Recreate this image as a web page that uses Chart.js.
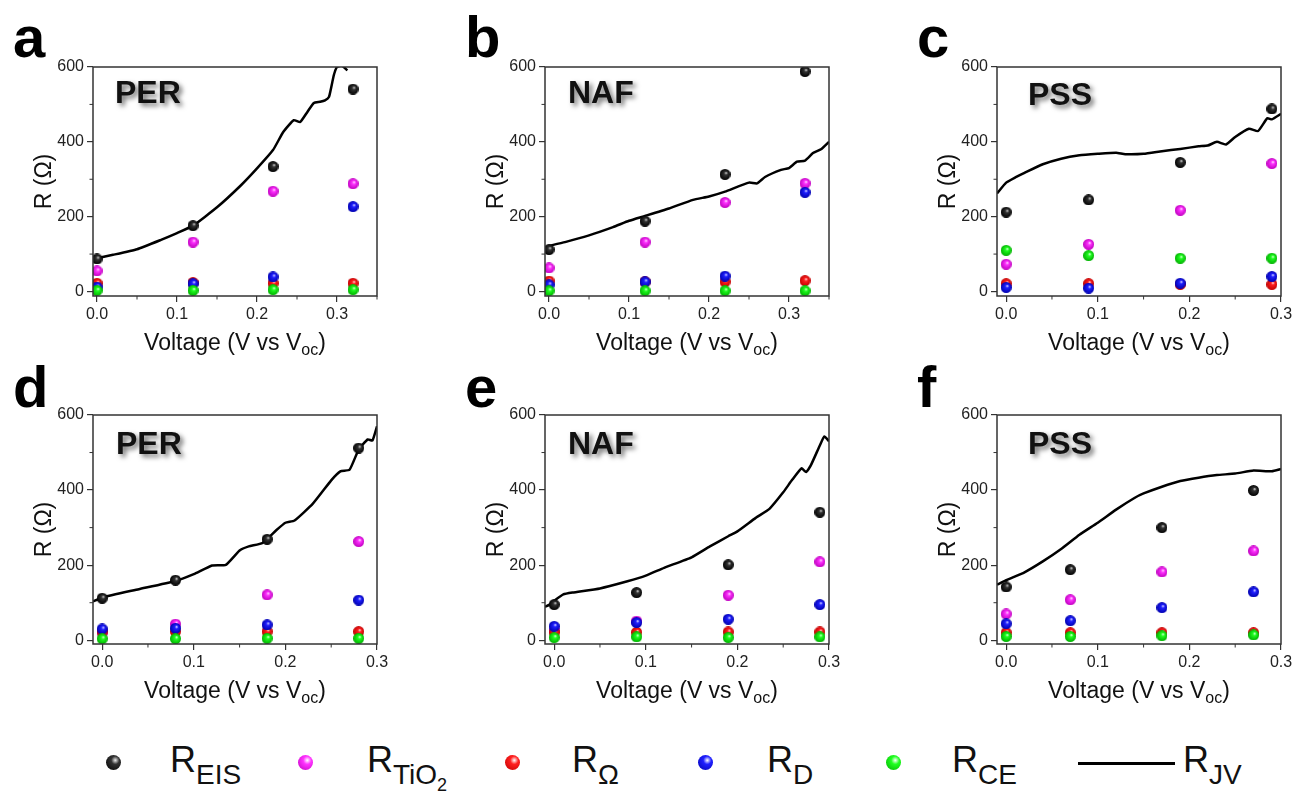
<!DOCTYPE html>
<html>
<head>
<meta charset="utf-8">
<script src="https://cdn.jsdelivr.net/npm/chart.js@4.4.1/dist/chart.umd.min.js"></script>
<style>
  body { margin: 0; width: 1294px; height: 794px; overflow: hidden; background: #fff; position: relative;
         font-family: 'Liberation Sans', Arial, sans-serif; color: #111; }
  canvas.p { position: absolute; }
  .ball { position: absolute; width: 15px; height: 15px; border-radius: 50%; }
  .lab { position: absolute; top: 742px; font-size: 36px; line-height: 36px; white-space: nowrap; }
  .lab span { font-size: 28px; position: relative; top: 12px; }
  .jv { position: absolute; left: 1078px; top: 762px; width: 97px; height: 3px; background: #000; }
</style>
</head>
<body>
<canvas id="pa" class="p" width="430" height="370" style="left:0px;top:0px"></canvas>
<canvas id="pb" class="p" width="430" height="370" style="left:452px;top:0px"></canvas>
<canvas id="pc" class="p" width="430" height="370" style="left:904px;top:0px"></canvas>
<canvas id="pd" class="p" width="430" height="370" style="left:0px;top:348px"></canvas>
<canvas id="pe" class="p" width="430" height="370" style="left:452px;top:348px"></canvas>
<canvas id="pf" class="p" width="430" height="370" style="left:904px;top:348px"></canvas>

<div class="ball" style="left:106px;top:755px;background:radial-gradient(circle at 62% 35%, #eee 0%, #333 30%, #000 100%)"></div>
<div class="lab" style="left:170px">R<span>EIS</span></div>
<div class="ball" style="left:298px;top:755px;background:radial-gradient(circle at 62% 35%, #fff 0%, #ff33ff 30%, #c000c0 100%)"></div>
<div class="lab" style="left:367px">R<span>TiO<sub style="font-size:18px">2</sub></span></div>
<div class="ball" style="left:505px;top:755px;background:radial-gradient(circle at 62% 35%, #fff 0%, #ff2020 30%, #c00000 100%)"></div>
<div class="lab" style="left:572px">R<span>Ω</span></div>
<div class="ball" style="left:698px;top:755px;background:radial-gradient(circle at 62% 35%, #fff 0%, #2020ff 30%, #0000b0 100%)"></div>
<div class="lab" style="left:767px">R<span>D</span></div>
<div class="ball" style="left:886px;top:755px;background:radial-gradient(circle at 62% 35%, #fff 0%, #20ff20 30%, #00b000 100%)"></div>
<div class="lab" style="left:952px">R<span>CE</span></div>
<div class="jv"></div>
<div class="lab" style="left:1183px">R<span>JV</span></div>

<script>
// tick values
const majorX = [0, 0.1, 0.2, 0.3];
const minorXwide = [0.05, 0.15, 0.25, 0.35];
const minorX = [0.05, 0.15, 0.25];
const majorY = [0, 200, 400, 600];
const minorY = [100, 300, 500];

// a - PER
const xA = [0, 0.12, 0.22, 0.32];
const eisA = [87, 176, 334, 541];
const tioA = [55, 132, 268, 288];
const ohmA = [22, 24, 22, 22];
const dA = [12, 21, 39, 227];
const ceA = [3, 3, 5, 5];
const jvXA = [0, 0.02, 0.05, 0.08, 0.1, 0.12, 0.15, 0.18, 0.2, 0.22, 0.233, 0.246, 0.254, 0.263, 0.271, 0.279, 0.285, 0.29, 0.296, 0.3, 0.306, 0.313];
const jvYA = [89, 98, 113, 138, 156, 176, 225, 284, 329, 378, 427, 458, 453, 480, 504, 507, 511, 520, 578, 600, 604, 591];

// b - NAF
const xB = [0, 0.12, 0.22, 0.32];
const eisB = [112, 188, 313, 588];
const tioB = [63, 132, 238, 289];
const ohmB = [28, 26, 26, 29];
const dB = [18, 26, 41, 265];
const ceB = [2, 2, 2, 2];
const jvXB = [0, 0.02, 0.05, 0.08, 0.1, 0.12, 0.15, 0.18, 0.2, 0.22, 0.25, 0.26, 0.27, 0.29, 0.3, 0.31, 0.32, 0.33, 0.34, 0.35];
const jvYB = [122, 132, 150, 172, 189, 202, 222, 245, 254, 267, 291, 289, 306, 325, 330, 347, 350, 370, 380, 400];

// c - PSS
const xC = [0, 0.09, 0.19, 0.29];
const eisC = [212, 245, 345, 488];
const tioC = [73, 126, 217, 342];
const ohmC = [21, 21, 19, 19];
const dC = [11, 9, 22, 40];
const ceC = [110, 96, 89, 89];
const jvXC = [-0.01, 0, 0.01, 0.02, 0.04, 0.06, 0.08, 0.1, 0.12, 0.13, 0.15, 0.17, 0.19, 0.21, 0.22, 0.23, 0.24, 0.25, 0.265, 0.275, 0.285, 0.29, 0.3];
const jvYC = [262, 291, 305, 317, 340, 355, 364, 368, 371, 367, 368, 375, 381, 388, 390, 400, 393, 413, 435, 429, 463, 460, 475];

// d - PER
const xD = [0, 0.08, 0.18, 0.28];
const eisD = [112, 160, 269, 512];
const tioD = [20, 43, 121, 263];
const ohmD = [23, 23, 23, 23];
const dD = [30, 32, 41, 107];
const ceD = [4, 4, 5, 5];
const jvXD = [-0.01, 0, 0.04, 0.08, 0.1, 0.12, 0.135, 0.15, 0.16, 0.175, 0.19, 0.2, 0.21, 0.23, 0.25, 0.26, 0.27, 0.28, 0.29, 0.295, 0.3];
const jvYD = [103, 114, 136, 158, 176, 199, 201, 239, 250, 259, 293, 313, 319, 364, 426, 450, 454, 508, 535, 532, 570];

// e - NAF
const xE = [0, 0.09, 0.19, 0.29];
const eisE = [95, 127, 201, 341];
const tioE = [26, 51, 120, 209];
const ohmE = [21, 21, 22, 22];
const dE = [37, 47, 56, 95];
const ceE = [7, 9, 7, 9];
const jvXE = [-0.01, -0.005, 0, 0.01, 0.02, 0.05, 0.08, 0.1, 0.12, 0.15, 0.17, 0.19, 0.2, 0.22, 0.235, 0.25, 0.26, 0.27, 0.275, 0.28, 0.29, 0.295, 0.3];
const jvYE = [89, 95, 105, 122, 127, 138, 157, 172, 193, 221, 250, 277, 290, 326, 350, 394, 428, 458, 448, 465, 519, 543, 530];

// f - PSS
const xF = [0, 0.07, 0.17, 0.27];
const eisF = [142, 188, 300, 399];
const tioF = [70, 108, 182, 238];
const ohmF = [20, 20, 20, 20];
const dF = [44, 52, 87, 129];
const ceF = [10, 10, 12, 14];
const jvXF = [-0.01, 0, 0.02, 0.04, 0.06, 0.08, 0.1, 0.12, 0.14, 0.15, 0.17, 0.19, 0.21, 0.23, 0.25, 0.27, 0.29, 0.3];
const jvYF = [148, 160, 181, 210, 243, 281, 313, 348, 379, 391, 409, 424, 433, 440, 444, 452, 450, 456];

const FONT = "'Liberation Sans', Arial, sans-serif";
Chart.defaults.font.family = FONT;

// shaded ball marker
function sphere(hi, mid, dark, d) {
  const c = document.createElement('canvas');
  c.width = c.height = d;
  const g = c.getContext('2d');
  const r = d / 2;
  const grad = g.createRadialGradient(r * 1.25, r * 0.7, 0, r, r, r);
  grad.addColorStop(0, hi);
  grad.addColorStop(0.3, mid);
  grad.addColorStop(1, dark);
  g.fillStyle = grad;
  g.beginPath();
  g.arc(r, r, r, 0, Math.PI * 2);
  g.fill();
  return c;
}
const balls = {
  eis: sphere('#eee', '#333', '#000', 11),
  tio: sphere('#fff', '#ff33ff', '#c000c0', 11),
  ohm: sphere('#fff', '#ff2020', '#c00000', 11),
  d: sphere('#fff', '#2020ff', '#0000b0', 11),
  ce: sphere('#fff', '#20ff20', '#00b000', 11)
};

const decor = {
  id: 'decor',
  afterDraw(chart, args, o) {
    const { ctx, chartArea: a, scales: { x, y } } = chart;
    ctx.save();
    ctx.strokeStyle = '#333';
    ctx.lineWidth = 1.5;
    ctx.strokeRect(a.left, a.top, a.right - a.left, a.bottom - a.top);
    ctx.lineWidth = 1;
    o.minorX.forEach(v => {
      const px = x.getPixelForValue(v);
      ctx.beginPath(); ctx.moveTo(px, a.bottom); ctx.lineTo(px, a.bottom + 3.5); ctx.stroke();
    });
    minorY.forEach(v => {
      const py = y.getPixelForValue(v);
      ctx.beginPath(); ctx.moveTo(a.left, py); ctx.lineTo(a.left - 3.5, py); ctx.stroke();
    });

    // x title with subscript
    ctx.fillStyle = '#111';
    ctx.textBaseline = 'alphabetic';
    ctx.textAlign = 'left';
    const t1 = 'Voltage (V vs V', t2 = 'oc', t3 = ')';
    ctx.font = '23px ' + FONT;
    const w1 = ctx.measureText(t1).width, w3 = ctx.measureText(t3).width;
    ctx.font = '16px ' + FONT;
    const w2 = ctx.measureText(t2).width;
    let sx = (a.left + a.right) / 2 - (w1 + w2 + w3) / 2;
    const by = a.bottom + 54;
    ctx.font = '23px ' + FONT;
    ctx.fillText(t1, sx, by);
    ctx.font = '16px ' + FONT;
    ctx.fillText(t2, sx + w1, by + 5);
    ctx.font = '23px ' + FONT;
    ctx.fillText(t3, sx + w1 + w2, by);

    // y title
    ctx.save();
    ctx.translate(a.left - 48, (a.top + a.bottom) / 2);
    ctx.rotate(-Math.PI / 2);
    ctx.textAlign = 'center';
    ctx.textBaseline = 'middle';
    ctx.font = '23px ' + FONT;
    ctx.fillText('R (Ω)', 0, 0);
    ctx.restore();

    // panel letter
    ctx.font = 'bold 58px ' + FONT;
    ctx.fillStyle = '#000';
    ctx.fillText(o.letter, a.left - 80, a.top + o.letterDy);

    // sample name with soft shadow
    ctx.shadowColor = 'rgba(0,0,0,0.55)';
    ctx.shadowBlur = 5;
    ctx.shadowOffsetX = 3;
    ctx.shadowOffsetY = 3;
    ctx.font = 'bold 32px ' + FONT;
    ctx.fillStyle = '#111';
    ctx.fillText(o.name, a.left + o.nameDx, a.top + o.nameDy);
    ctx.restore();
  }
};

function pts(xs, ys) {
  return xs.map((v, i) => ({ x: v, y: ys[i] }));
}

function ball(label, xs, ys, img, order) {
  return { label, data: pts(xs, ys), pointStyle: img, pointRadius: 5.5, order };
}

function makePanel(p) {
  new Chart(document.getElementById(p.id), {
    type: 'scatter',
    data: {
      datasets: [
        ball('R_EIS', p.x, p.eis, balls.eis, 5),
        ball('R_TiO2', p.x, p.tio, balls.tio, 4),
        ball('R_Ω', p.x, p.ohm, balls.ohm, 3),
        ball('R_D', p.x, p.d, balls.d, 2),
        ball('R_CE', p.x, p.ce, balls.ce, 1),
        { label: 'R_JV', data: pts(p.jvX, p.jvY), showLine: true, pointRadius: 0,
          borderColor: '#000', borderWidth: 2.5, tension: 0.15, order: 6 }
      ]
    },
    options: {
      responsive: false,
      animation: false,
      layout: { padding: { left: 0, top: 67, right: 53, bottom: 0 } },
      plugins: {
        legend: { display: false },
        tooltip: { enabled: false },
        decor: p.decor
      },
      scales: {
        x: {
          type: 'linear', min: p.xMin, max: 0.3 + p.xExtra,
          afterFit: s => { s.height = 74; },
          afterBuildTicks: s => { s.ticks = majorX.map(v => ({ value: v })); },
          grid: { drawOnChartArea: false, tickLength: 6, color: '#333', lineWidth: 1.2 },
          border: { display: false },
          ticks: { font: { size: 16 }, color: '#222', padding: 3, maxRotation: 0, autoSkip: false,
                   callback: v => Number(v).toFixed(1) }
        },
        y: {
          min: p.yMin, max: 600,
          afterFit: s => { s.width = 93; },
          afterBuildTicks: s => { s.ticks = majorY.map(v => ({ value: v })); },
          grid: { drawOnChartArea: false, tickLength: 6, color: '#333', lineWidth: 1.2 },
          border: { display: false },
          ticks: { font: { size: 16 }, color: '#222', padding: 3, autoSkip: false,
                   callback: v => String(v) }
        }
      }
    },
    plugins: [decor]
  });
}

makePanel({ id: 'pa', x: xA, eis: eisA, tio: tioA, ohm: ohmA, d: dA, ce: ceA, jvX: jvXA, jvY: jvYA,
  xMin: -0.005, xExtra: 0.05, yMin: -12,
  decor: { letter: 'a', letterDy: -10, name: 'PER', nameDx: 22, nameDy: 36, minorX: minorXwide } });
makePanel({ id: 'pb', x: xB, eis: eisB, tio: tioB, ohm: ohmB, d: dB, ce: ceB, jvX: jvXB, jvY: jvYB,
  xMin: -0.005, xExtra: 0.05, yMin: -12,
  decor: { letter: 'b', letterDy: -10, name: 'NAF', nameDx: 23, nameDy: 36, minorX: minorXwide } });
makePanel({ id: 'pc', x: xC, eis: eisC, tio: tioC, ohm: ohmC, d: dC, ce: ceC, jvX: jvXC, jvY: jvYC,
  xMin: -0.01, xExtra: 0, yMin: -12,
  decor: { letter: 'c', letterDy: -10, name: 'PSS', nameDx: 31, nameDy: 38, minorX: minorX } });
makePanel({ id: 'pd', x: xD, eis: eisD, tio: tioD, ohm: ohmD, d: dD, ce: ceD, jvX: jvXD, jvY: jvYD,
  xMin: -0.01, xExtra: 0, yMin: -10,
  decor: { letter: 'd', letterDy: -8, name: 'PER', nameDx: 23, nameDy: 39, minorX: minorX } });
makePanel({ id: 'pe', x: xE, eis: eisE, tio: tioE, ohm: ohmE, d: dE, ce: ceE, jvX: jvXE, jvY: jvYE,
  xMin: -0.01, xExtra: 0, yMin: -10,
  decor: { letter: 'e', letterDy: -8, name: 'NAF', nameDx: 23, nameDy: 39, minorX: minorX } });
makePanel({ id: 'pf', x: xF, eis: eisF, tio: tioF, ohm: ohmF, d: dF, ce: ceF, jvX: jvXF, jvY: jvYF,
  xMin: -0.01, xExtra: 0, yMin: -10,
  decor: { letter: 'f', letterDy: -8, name: 'PSS', nameDx: 31, nameDy: 39, minorX: minorX } });
</script>
</body>
</html>
